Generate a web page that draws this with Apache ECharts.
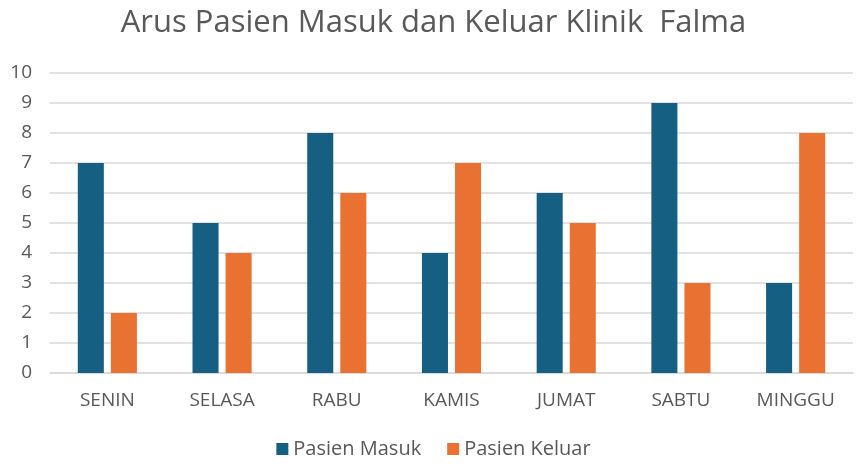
<!DOCTYPE html>
<html><head><meta charset="utf-8">
<script src="https://cdn.jsdelivr.net/npm/echarts@6/dist/echarts.min.js"></script>
<style>html,body{margin:0;padding:0;background:#fff}#c{width:867px;height:469px}</style>
</head><body><div id="c"></div>
<script>
const categories = ['SENIN','SELASA','RABU','KAMIS','JUMAT','SABTU','MINGGU'];
const pasienMasuk = [7,5,8,4,6,9,3];
const pasienKeluar = [2,4,6,7,5,3,8];
const titleText = 'Arus Pasien Masuk dan Keluar Klinik  Falma';
const font = '"Open Sans", "Noto Sans", sans-serif';
const chart = echarts.init(document.getElementById('c'));
chart.setOption({
  animation:false,
  title:{text:titleText,left:'center',top:3,textStyle:{fontFamily:font,fontSize:31,fontWeight:'normal',color:'#595959'}},
  grid:{left:50,right:14,top:73,bottom:96,containLabel:false},
  legend:{bottom:5,left:'center',itemWidth:12,itemHeight:12,itemGap:26,icon:'rect',
    textStyle:{fontFamily:font,fontSize:20,color:'#595959'}},
  xAxis:{type:'category',data:categories,axisTick:{show:false},
    axisLine:{lineStyle:{color:'#D9D9D9',width:1.5}},
    axisLabel:{fontFamily:font,fontSize:19,color:'#595959',margin:18}},
  yAxis:{type:'value',min:0,max:10,interval:1,
    splitLine:{lineStyle:{color:'#D9D9D9',width:1.5}},
    axisLabel:{fontFamily:font,fontSize:19,color:'#595959',margin:18}},
  series:[
    {name:'Pasien Masuk',type:'bar',data:pasienMasuk,itemStyle:{color:'#156082'},barWidth:'22.7%',barGap:'27%'},
    {name:'Pasien Keluar',type:'bar',data:pasienKeluar,itemStyle:{color:'#E97132'},barWidth:'22.7%',barGap:'27%'}
  ]
});
</script></body></html>
